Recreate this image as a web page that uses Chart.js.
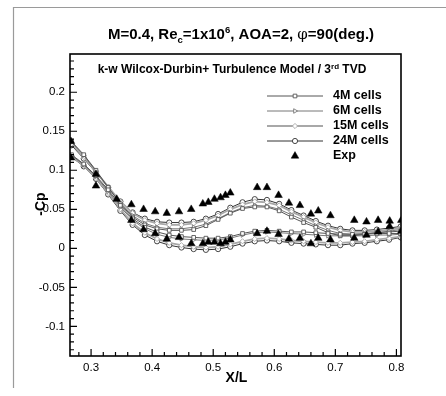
<!DOCTYPE html>
<html>
<head>
<meta charset="utf-8">
<script src="https://cdn.jsdelivr.net/npm/chart.js@4/dist/chart.umd.min.js"></script>
<style>
  html, body { margin: 0; padding: 0; background: #fff; }
  #wrap { width: 446px; height: 396px; }
</style>
</head>
<body>
<div id="wrap"><canvas id="c" width="446" height="396"></canvas></div>
<script>
// Station positions along the body (X/L) where the CFD solutions are sampled
const xStations = [0.268,0.288,0.308,0.328,0.348,0.368,0.388,0.408,0.428,0.448,0.468,0.488,0.508,0.528,
                   0.548,0.568,0.588,0.608,0.628,0.648,0.668,0.688,0.708,0.728,0.748,0.768,0.788,0.807];

// -Cp, upper branch and lower branch of each grid solution
const cp4MUpper  = [0.137,0.120,0.100,0.078,0.057,0.040,0.030,0.025,0.023,0.023,0.024,0.029,0.037,0.045,
                    0.051,0.053,0.053,0.048,0.040,0.033,0.027,0.020,0.016,0.016,0.018,0.020,0.021,0.022];
const cp4MLower  = [0.120,0.108,0.093,0.075,0.055,0.038,0.027,0.021,0.017,0.015,0.014,0.013,0.013,0.015,
                    0.019,0.022,0.023,0.022,0.021,0.021,0.020,0.019,0.018,0.018,0.018,0.019,0.019,0.019];
const cp6MUpper  = [0.136,0.119,0.099,0.078,0.058,0.042,0.032,0.027,0.025,0.025,0.027,0.031,0.038,0.046,
                    0.052,0.055,0.054,0.050,0.043,0.036,0.029,0.023,0.019,0.018,0.019,0.020,0.022,0.024];
const cp6MLower  = [0.119,0.107,0.092,0.073,0.053,0.036,0.025,0.018,0.014,0.012,0.011,0.010,0.011,0.013,
                    0.017,0.020,0.021,0.020,0.019,0.018,0.017,0.016,0.016,0.016,0.016,0.017,0.017,0.018];
const cp15MUpper = [0.134,0.117,0.098,0.079,0.060,0.045,0.036,0.032,0.030,0.030,0.032,0.036,0.042,0.050,
                    0.056,0.060,0.059,0.055,0.047,0.040,0.033,0.027,0.023,0.021,0.021,0.022,0.024,0.026];
const cp15MLower = [0.118,0.106,0.090,0.071,0.050,0.032,0.020,0.012,0.007,0.004,0.002,0.001,0.002,0.005,
                    0.009,0.012,0.013,0.012,0.010,0.009,0.008,0.007,0.007,0.008,0.009,0.011,0.013,0.015];
const cp24MUpper = [0.132,0.115,0.097,0.078,0.060,0.046,0.038,0.034,0.033,0.033,0.034,0.038,0.044,0.052,
                    0.059,0.063,0.062,0.057,0.049,0.042,0.035,0.029,0.025,0.023,0.023,0.024,0.026,0.028];
const cp24MLower = [0.117,0.105,0.089,0.069,0.048,0.030,0.017,0.009,0.004,0.001,-0.001,-0.002,-0.001,0.002,
                    0.006,0.009,0.010,0.009,0.007,0.006,0.005,0.004,0.004,0.006,0.007,0.009,0.011,0.014];

// Experimental -Cp
const expUpperX = [0.267,0.308,0.342,0.366,0.386,0.405,0.424,0.444,0.464,0.483,0.492,0.502,0.512,0.520,
                   0.528,0.572,0.588,0.607,0.624,0.642,0.660,0.672,0.692,0.731,0.751,0.770,0.789,0.808];
const expUpperY = [0.137,0.095,0.063,0.056,0.050,0.047,0.045,0.047,0.050,0.057,0.059,0.063,0.065,0.068,
                   0.071,0.078,0.078,0.068,0.058,0.055,0.044,0.048,0.042,0.036,0.034,0.036,0.035,0.036];
const expLowerX = [0.267,0.308,0.366,0.386,0.405,0.424,0.444,0.464,0.483,0.492,0.502,0.512,0.520,0.528,
                   0.572,0.588,0.607,0.624,0.642,0.660,0.672,0.692,0.731,0.751,0.770,0.789,0.808];
const expLowerY = [0.116,0.080,0.036,0.024,0.019,0.012,0.014,0.006,0.006,0.008,0.008,0.006,0.008,0.011,
                   0.019,0.022,0.018,0.012,0.013,0.006,0.013,0.011,0.013,0.017,0.021,0.028,0.022];

// Axis ticks
const xTickValues = [0.3,0.4,0.5,0.6,0.7,0.8];
const xTickLabels = ['0.3','0.4','0.5','0.6','0.7','0.8'];
const yTickValues = [-0.1,-0.05,0,0.05,0.1,0.15,0.2];
const yTickLabels = ['-0.1','-0.05','0','0.05','0.1','0.15','0.2'];

const seriesNames = ['4M cells','6M cells','15M cells','24M cells','Exp'];

// Join two branches into one line broken by a gap
function branches(up, low) {
  const pts = xStations.map((x, i) => ({x: x, y: up[i]}));
  pts.push({x: xStations[xStations.length - 1], y: null});
  xStations.forEach((x, i) => pts.push({x: x, y: low[i]}));
  return pts;
}
function pairs(xs, ys) { return xs.map((x, i) => ({x: x, y: ys[i]})); }

const FONT = '"Liberation Sans", Arial, sans-serif';

function cfdSet(label, up, low, color, width, style, rot) {
  return {
    label: label, data: branches(up, low), showLine: true, spanGaps: false,
    borderColor: color, borderWidth: width, tension: 0,
    pointStyle: style, rotation: rot || 0, pointRadius: 2.6, pointBorderWidth: 0.9,
    pointBorderColor: color, pointBackgroundColor: '#fff', order: 2
  };
}

const datasets = [
  cfdSet(seriesNames[0], cp4MUpper, cp4MLower, '#555', 1, 'rect'),
  cfdSet(seriesNames[1], cp6MUpper, cp6MLower, '#777', 1, 'triangle', 90),
  cfdSet(seriesNames[2], cp15MUpper, cp15MLower, '#a8a8a8', 1.8, 'rectRot'),
  cfdSet(seriesNames[3], cp24MUpper, cp24MLower, '#333', 1, 'circle'),
  {
    label: seriesNames[4], data: pairs(expUpperX, expUpperY).concat(pairs(expLowerX, expLowerY)),
    showLine: false, pointStyle: 'triangle', pointRadius: 4.4, pointBorderWidth: 0.5,
    pointBackgroundColor: '#000', pointBorderColor: '#000', order: 1
  }
];

// Frame, inward tick marks, titles and legend
const decor = {
  id: 'decor',
  beforeDraw(chart) {
    const ctx = chart.ctx;
    ctx.save();
    ctx.strokeStyle = '#9a9a9a';
    ctx.lineWidth = 1.2;
    ctx.beginPath();
    ctx.moveTo(13.5, 388); ctx.lineTo(13.5, 7.5); ctx.lineTo(446, 7.5);
    ctx.stroke();
    ctx.restore();
  },
  afterDraw(chart) {
    const ctx = chart.ctx, a = chart.chartArea;
    const xs = chart.scales.x, ys = chart.scales.y;
    ctx.save();
    // plot box
    ctx.strokeStyle = '#000';
    ctx.lineWidth = 1.6;
    ctx.strokeRect(a.left, a.top, a.right - a.left, a.bottom - a.top);
    // ticks
    ctx.lineWidth = 1.2;
    ctx.beginPath();
    for (let k = 14; k <= 40; k++) {
      const v = k / 50, px = xs.getPixelForValue(v);
      if (px < a.left + 1 || px > a.right - 1) continue;
      const len = (k % 5 === 0) ? 7 : 4;
      ctx.moveTo(px, a.bottom); ctx.lineTo(px, a.bottom - len);
    }
    for (let k = -13; k <= 24; k++) {
      const v = k / 100, py = ys.getPixelForValue(v);
      if (py < a.top + 1 || py > a.bottom - 1) continue;
      const len = (k % 5 === 0) ? 7 : 4;
      ctx.moveTo(a.left, py); ctx.lineTo(a.left + len, py);
    }
    ctx.stroke();

    ctx.fillStyle = '#000';
    ctx.textBaseline = 'alphabetic';
    // main title with sub/superscripts
    const big = 'bold 15px ' + FONT, small = 'bold 9.5px ' + FONT, phi = '15px "DejaVu Serif", serif';
    const parts = [
      {t: 'M=0.4, Re', f: big, dy: 0}, {t: 'c', f: small, dy: 4}, {t: '=1x10', f: big, dy: 0},
      {t: '6', f: small, dy: -6}, {t: ', AOA=2, ', f: big, dy: 0}, {t: '\u03C6', f: phi, dy: 0},
      {t: '=90(deg.)', f: big, dy: 0}
    ];
    drawParts(ctx, parts, 241, 39);
    // model subtitle
    const mid = 'bold 12px ' + FONT, tiny = 'bold 8px ' + FONT;
    drawParts(ctx, [
      {t: 'k-w Wilcox-Durbin+ Turbulence Model / 3', f: mid, dy: 0},
      {t: 'rd', f: tiny, dy: -4}, {t: ' TVD', f: mid, dy: 0}
    ], 232, 73);
    // axis titles
    ctx.font = 'bold 14px ' + FONT;
    ctx.textAlign = 'center';
    ctx.fillText('X/L', 236.5, 382);
    ctx.save();
    ctx.translate(45, 204);
    ctx.rotate(-Math.PI / 2);
    ctx.fillText('-Cp', 0, 0);
    ctx.restore();
    // legend
    const rows = [96, 111, 126, 141, 156];
    ctx.textAlign = 'left';
    ctx.textBaseline = 'middle';
    ctx.font = 'bold 12.5px ' + FONT;
    chart.data.datasets.forEach((ds, i) => {
      const y = rows[i];
      if (ds.showLine) {
        ctx.strokeStyle = ds.borderColor;
        ctx.lineWidth = ds.borderWidth;
        ctx.beginPath(); ctx.moveTo(267, y); ctx.lineTo(323, y); ctx.stroke();
      }
      ctx.strokeStyle = ds.pointBorderColor;
      ctx.fillStyle = ds.pointBackgroundColor;
      ctx.lineWidth = ds.pointBorderWidth;
      Chart.helpers.drawPoint(ctx, {pointStyle: ds.pointStyle, rotation: ds.rotation || 0,
        radius: ds.pointRadius, borderWidth: ds.pointBorderWidth}, 295, y);
      ctx.fillStyle = '#000';
      ctx.fillText(ds.label, 333, y);
    });
    ctx.restore();
  }
};

function drawParts(ctx, parts, cx, baseline) {
  let w = 0;
  parts.forEach(p => { ctx.font = p.f; p.w = ctx.measureText(p.t).width; w += p.w; });
  let x = cx - w / 2;
  ctx.textAlign = 'left';
  parts.forEach(p => { ctx.font = p.f; ctx.fillText(p.t, x, baseline + p.dy); x += p.w; });
}

new Chart(document.getElementById('c'), {
  type: 'scatter',
  data: { datasets: datasets },
  options: {
    responsive: false,
    animation: false,
    layout: { padding: { top: 54, right: 45, left: 0, bottom: 0 } },
    plugins: { legend: { display: false }, title: { display: false }, tooltip: { enabled: false } },
    scales: {
      x: {
        type: 'linear', min: 0.2655, max: 0.8075,
        afterFit(s) { s.height = 40; },
        afterBuildTicks(s) { s.ticks = xTickValues.map(v => ({value: v})); },
        grid: { display: false, drawTicks: false },
        border: { display: false },
        ticks: {
          padding: 5, color: '#000', font: { family: FONT, size: 11.5 },
          callback: (v) => xTickLabels[xTickValues.findIndex(t => Math.abs(t - v) < 1e-9)]
        }
      },
      y: {
        type: 'linear', min: -0.138, max: 0.249,
        afterFit(s) { s.width = 70; },
        afterBuildTicks(s) { s.ticks = yTickValues.map(v => ({value: v})); },
        grid: { display: false, drawTicks: false },
        border: { display: false },
        ticks: {
          padding: 5, color: '#000', font: { family: FONT, size: 11.5 },
          callback: (v) => yTickLabels[yTickValues.findIndex(t => Math.abs(t - v) < 1e-9)]
        }
      }
    }
  },
  plugins: [decor]
});
</script>
</body>
</html>
